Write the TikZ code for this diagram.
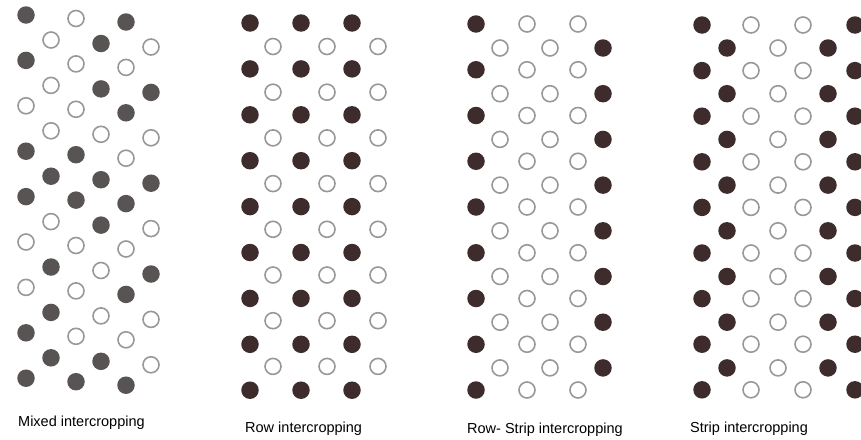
\documentclass[tikz,border=0pt]{standalone}
\usepackage{fontspec}
\setmainfont{Liberation Sans}
\definecolor{darkdot}{RGB}{62,44,44}
\definecolor{graydot}{RGB}{88,84,84}
\definecolor{ring}{RGB}{152,152,152}
\tikzset{
  dotbase/.style={circle, inner sep=0pt, minimum size=17.5pt},
  m1/.style={dotbase, fill=graydot},
  m0/.style={dotbase, draw=ring, line width=1.6pt, minimum size=16pt},
  d1/.style={dotbase, fill=darkdot},
  d0/.style={dotbase, draw=ring, line width=1.6pt, minimum size=16pt},
  lab/.style={anchor=base west, inner sep=0pt, font=\fontsize{14.5}{17}\selectfont}
}
\begin{document}
\begin{tikzpicture}[x=1pt,y=-1pt]
\useasboundingbox (0,0) rectangle (861,439);
\clip (0,0) rectangle (861,439);
% Mixed intercropping
\foreach \k/\a/\c/\e in {0/1/0/1,1/1/0/0,2/0/0/1,3/1/1/0,4/1/1/1,5/0/0/0,6/0/0/1,7/1/0/0,8/1/1/1}{
  \pgfmathsetmacro\yy{15+45.4*\k}
  \node[m\a] (mA\k) at (26,\yy) {};
  \node[m\c] (mC\k) at (76,\yy+3.5) {};
  \node[m\e] (mE\k) at (126,\yy+7) {};
}
\foreach \k/\b/\d/\f in {0/0/1/0,1/0/1/1,2/0/0/0,3/1/1/1,4/0/1/0,5/1/0/1,6/1/0/0,7/1/1/0}{
  \pgfmathsetmacro\yy{40+45.4*\k}
  \node[m\b] (mB\k) at (51,\yy) {};
  \node[m\d] (mD\k) at (101,\yy+3.5) {};
  \node[m\f] (mF\k) at (151,\yy+7) {};
}
% Row intercropping
\foreach \k in {0,...,8}{
  \pgfmathsetmacro\yy{23+45.9*\k}
  \node[d1] (rA\k) at (250,\yy) {};
  \node[d1] (rC\k) at (301,\yy) {};
  \node[d1] (rE\k) at (352,\yy) {};
}
\foreach \k in {0,...,7}{
  \pgfmathsetmacro\yy{46.5+45.7*\k}
  \node[d0] (rB\k) at (273,\yy) {};
  \node[d0] (rD\k) at (327,\yy) {};
  \node[d0] (rF\k) at (378,\yy) {};
}
% Row-strip intercropping
\foreach \k in {0,...,8}{
  \pgfmathsetmacro\yy{24+45.75*\k}
  \node[d1] (sA\k) at (476,\yy) {};
  \node[d0] (sC\k) at (527,\yy) {};
  \node[d0] (sE\k) at (578,\yy) {};
}
\foreach \k in {0,...,7}{
  \pgfmathsetmacro\yy{48+45.7*\k}
  \node[d0] (sB\k) at (500,\yy) {};
  \node[d0] (sD\k) at (550,\yy) {};
  \node[d1] (sF\k) at (603,\yy) {};
}
% Strip intercropping
\foreach \k in {0,...,8}{
  \pgfmathsetmacro\yy{25+45.6*\k}
  \node[d1] (tA\k) at (702,\yy) {};
  \node[d0] (tC\k) at (751,\yy) {};
  \node[d0] (tE\k) at (803,\yy) {};
  \node[d1] (tG\k) at (855,\yy) {};
}
\foreach \k in {0,...,7}{
  \pgfmathsetmacro\yy{48+45.7*\k}
  \node[d1] (tB\k) at (727,\yy) {};
  \node[d0] (tD\k) at (778,\yy) {};
  \node[d1] (tF\k) at (828,\yy) {};
}
% Labels
\node[lab] (l1) at (18,426) {Mixed intercropping};
\node[lab] (l2) at (245,432) {Row intercropping};
\node[lab] (l3) at (467,433) {Row- Strip intercropping};
\node[lab] (l4) at (690,432) {Strip intercropping};
\end{tikzpicture}
\end{document}
